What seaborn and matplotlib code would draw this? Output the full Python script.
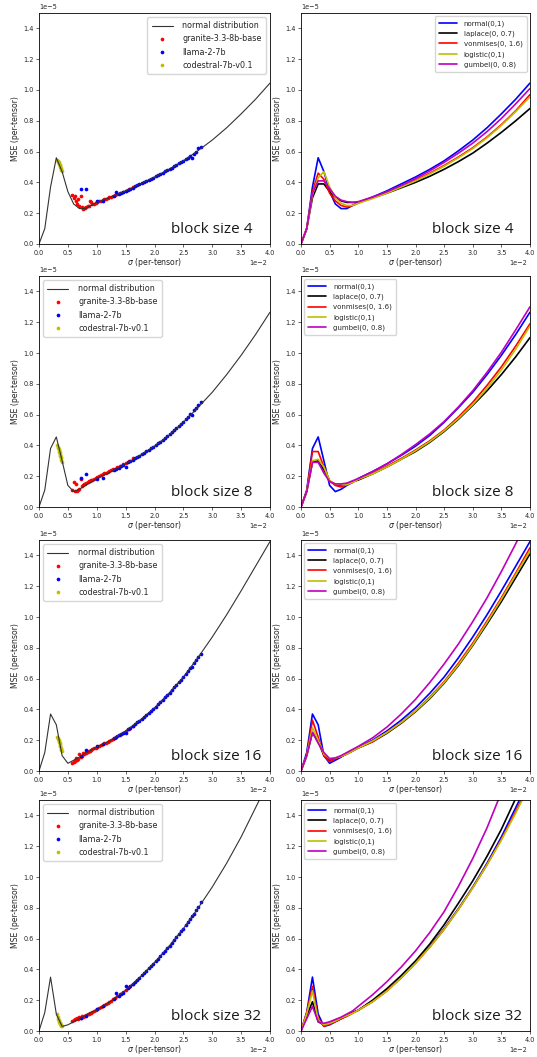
import matplotlib
matplotlib.use("Agg")
import numpy as np
import matplotlib.pyplot as plt
from matplotlib.ticker import MultipleLocator
import seaborn as sns

# ---------------------------------------------------------------- units
SIGMA_UNIT = 1e-2
MSE_UNIT = 1e-5

BLOCK_SIZES = [4, 8, 16, 32]

# ------------------------------------------- reference distributions
# sigma grid (in units of 1e-2)
sigma_grid = [0.0, 0.1, 0.2, 0.3, 0.4, 0.5, 0.6, 0.7, 0.8, 0.9, 1.0,
              1.25, 1.5, 1.75, 2.0, 2.25, 2.5, 2.75, 3.0, 3.25, 3.5, 3.75, 4.0]

dist_labels = ["normal(0,1)", "laplace(0, 0.7)", "vonmises(0, 1.6)",
               "logistic(0,1)", "gumbel(0, 0.8)"]
dist_colors = ["b", "k", "r", "y", "m"]

# MSE (in units of 1e-5), block size 4
normal_b4 = [0, 0.10, 0.37, 0.56, 0.47, 0.34, 0.26, 0.23, 0.23, 0.25, 0.27,
             0.305, 0.345, 0.39, 0.435, 0.485, 0.54, 0.605, 0.675, 0.755, 0.845, 0.94, 1.045]
laplace_b4 = [0, 0.10, 0.30, 0.39, 0.39, 0.34, 0.30, 0.28, 0.27, 0.27, 0.27,
              0.30, 0.33, 0.365, 0.40, 0.44, 0.485, 0.535, 0.59, 0.655, 0.725, 0.80, 0.88]
vonmises_b4 = [0, 0.10, 0.34, 0.46, 0.42, 0.33, 0.28, 0.25, 0.24, 0.25, 0.265,
               0.30, 0.335, 0.375, 0.415, 0.46, 0.51, 0.565, 0.625, 0.695, 0.775, 0.865, 0.97]
logistic_b4 = [0, 0.10, 0.32, 0.43, 0.47, 0.37, 0.30, 0.265, 0.25, 0.25, 0.265,
               0.295, 0.33, 0.37, 0.41, 0.455, 0.505, 0.56, 0.62, 0.69, 0.77, 0.86, 0.955]
gumbel_b4 = [0, 0.10, 0.33, 0.41, 0.41, 0.36, 0.31, 0.285, 0.275, 0.27, 0.275,
             0.305, 0.34, 0.38, 0.425, 0.475, 0.53, 0.59, 0.655, 0.73, 0.815, 0.91, 1.01]

# block size 8
normal_b8 = [0, 0.11, 0.38, 0.455, 0.30, 0.14, 0.10, 0.115, 0.14, 0.16, 0.185,
             0.23, 0.28, 0.335, 0.395, 0.465, 0.55, 0.645, 0.745, 0.86, 0.985, 1.12, 1.265]
laplace_b8 = [0, 0.10, 0.29, 0.30, 0.24, 0.17, 0.145, 0.14, 0.15, 0.165, 0.175,
              0.215, 0.26, 0.31, 0.36, 0.42, 0.49, 0.57, 0.66, 0.755, 0.86, 0.975, 1.10]
vonmises_b8 = [0, 0.10, 0.36, 0.36, 0.26, 0.17, 0.14, 0.13, 0.145, 0.16, 0.18,
               0.22, 0.265, 0.315, 0.37, 0.43, 0.50, 0.585, 0.68, 0.79, 0.91, 1.045, 1.19]
logistic_b8 = [0, 0.10, 0.30, 0.31, 0.26, 0.17, 0.15, 0.145, 0.145, 0.16, 0.18,
               0.215, 0.26, 0.31, 0.365, 0.425, 0.495, 0.575, 0.665, 0.77, 0.89, 1.025, 1.175]
gumbel_b8 = [0, 0.10, 0.29, 0.29, 0.22, 0.165, 0.15, 0.15, 0.155, 0.17, 0.185,
             0.23, 0.28, 0.34, 0.405, 0.475, 0.555, 0.65, 0.755, 0.875, 1.005, 1.15, 1.30]

# block size 16
normal_b16 = [0, 0.12, 0.37, 0.30, 0.10, 0.05, 0.07, 0.09, 0.115, 0.135, 0.155,
              0.20, 0.26, 0.33, 0.41, 0.505, 0.61, 0.735, 0.87, 1.015, 1.17, 1.33, 1.49]
laplace_b16 = [0, 0.10, 0.25, 0.19, 0.10, 0.07, 0.08, 0.095, 0.11, 0.13, 0.15,
               0.19, 0.245, 0.31, 0.385, 0.47, 0.57, 0.685, 0.815, 0.955, 1.10, 1.255, 1.41]
vonmises_b16 = [0, 0.10, 0.33, 0.22, 0.10, 0.06, 0.08, 0.095, 0.11, 0.13, 0.15,
                0.19, 0.25, 0.315, 0.39, 0.48, 0.58, 0.70, 0.83, 0.975, 1.125, 1.285, 1.45]
logistic_b16 = [0, 0.10, 0.28, 0.20, 0.11, 0.08, 0.085, 0.095, 0.11, 0.13, 0.15,
                0.195, 0.25, 0.315, 0.39, 0.475, 0.575, 0.69, 0.82, 0.965, 1.115, 1.275, 1.43]
gumbel_b16 = [0, 0.10, 0.25, 0.18, 0.12, 0.08, 0.085, 0.10, 0.12, 0.14, 0.16,
              0.215, 0.285, 0.37, 0.465, 0.575, 0.695, 0.825, 0.97, 1.125, 1.295, 1.475, 1.665]

# block size 32
normal_b32 = [0, 0.12, 0.35, 0.11, 0.03, 0.04, 0.06, 0.08, 0.10, 0.12, 0.135,
              0.195, 0.265, 0.35, 0.445, 0.55, 0.665, 0.795, 0.935, 1.09, 1.26, 1.45, 1.64]
laplace_b32 = [0, 0.10, 0.19, 0.06, 0.04, 0.05, 0.065, 0.08, 0.10, 0.12, 0.135,
               0.20, 0.275, 0.36, 0.455, 0.565, 0.69, 0.83, 0.975, 1.135, 1.31, 1.51, 1.72]
vonmises_b32 = [0, 0.12, 0.29, 0.08, 0.03, 0.045, 0.06, 0.08, 0.095, 0.115, 0.135,
                0.19, 0.26, 0.345, 0.44, 0.545, 0.66, 0.79, 0.93, 1.08, 1.245, 1.425, 1.615]
logistic_b32 = [0, 0.11, 0.26, 0.07, 0.04, 0.05, 0.065, 0.085, 0.10, 0.115, 0.135,
                0.19, 0.26, 0.345, 0.44, 0.545, 0.66, 0.79, 0.93, 1.08, 1.24, 1.415, 1.60]
gumbel_b32 = [0, 0.08, 0.16, 0.06, 0.05, 0.06, 0.075, 0.09, 0.11, 0.13, 0.16,
              0.235, 0.32, 0.415, 0.52, 0.64, 0.775, 0.94, 1.12, 1.32, 1.55, 1.80, 2.05]

dist_curves = {
    4: [normal_b4, laplace_b4, vonmises_b4, logistic_b4, gumbel_b4],
    8: [normal_b8, laplace_b8, vonmises_b8, logistic_b8, gumbel_b8],
    16: [normal_b16, laplace_b16, vonmises_b16, logistic_b16, gumbel_b16],
    32: [normal_b32, laplace_b32, vonmises_b32, logistic_b32, gumbel_b32],
}

# ------------------------------------------------ per-tensor model points
model_labels = ["granite-3.3-8b-base", "llama-2-7b", "codestral-7b-v0.1"]
model_colors = ["r", "b", "y"]

# per-tensor sigma (units of 1e-2), identical for every block size
granite_sigma = [0.58, 0.60, 0.62, 0.64, 0.66, 0.68, 0.70, 0.72, 0.74, 0.76, 0.78,
                 0.80, 0.82, 0.84, 0.86, 0.88, 0.90, 0.92, 0.95, 0.98, 1.01, 1.04,
                 1.07, 1.10, 1.13, 1.16, 1.19, 1.22, 1.25, 1.28, 1.31, 1.35, 1.40,
                 1.45, 1.50, 1.56, 1.62]
llama_sigma = [0.72, 0.82, 1.00, 1.10, 1.30, 1.34, 1.38, 1.42, 1.46, 1.50, 1.54,
               1.58, 1.62, 1.66, 1.70, 1.74, 1.78, 1.82, 1.86, 1.90, 1.94, 1.98,
               2.02, 2.06, 2.10, 2.14, 2.18, 2.22, 2.26, 2.30, 2.34, 2.38, 2.42,
               2.46, 2.50, 2.54, 2.58, 2.62, 2.65, 2.68, 2.72, 2.76, 2.80]
codestral_sigma = [0.32, 0.33, 0.335, 0.34, 0.345, 0.35, 0.355, 0.36, 0.365,
                   0.37, 0.375, 0.38, 0.385, 0.39]

# per-tensor MSE (units of 1e-5)
granite_b4 = [0.32, 0.30, 0.31, 0.28, 0.26, 0.29, 0.25, 0.31, 0.24, 0.228, 0.232,
              0.236, 0.24, 0.244, 0.248, 0.28, 0.27, 0.258, 0.262, 0.268, 0.273, 0.277,
              0.282, 0.286, 0.29, 0.294, 0.298, 0.302, 0.306, 0.311, 0.316, 0.322, 0.33,
              0.338, 0.346, 0.356, 0.372]
granite_b8 = [0.11, 0.16, 0.105, 0.15, 0.105, 0.11, 0.12, 0.18, 0.135, 0.14, 0.147,
              0.152, 0.157, 0.162, 0.166, 0.17, 0.174, 0.178, 0.184, 0.19, 0.196, 0.202,
              0.208, 0.213, 0.218, 0.223, 0.228, 0.233, 0.238, 0.244, 0.25, 0.257, 0.266,
              0.276, 0.285, 0.30, 0.315]
granite_b16 = [0.055, 0.06, 0.065, 0.085, 0.07, 0.075, 0.11, 0.09, 0.095, 0.12, 0.11,
               0.115, 0.12, 0.125, 0.13, 0.133, 0.137, 0.141, 0.147, 0.152, 0.157, 0.163,
               0.168, 0.174, 0.18, 0.185, 0.19, 0.196, 0.202, 0.209, 0.216, 0.225, 0.237,
               0.249, 0.26, 0.275, 0.295]
granite_b32 = [0.065, 0.07, 0.08, 0.075, 0.085, 0.08, 0.09, 0.085, 0.095, 0.092, 0.097,
               0.10, 0.104, 0.108, 0.112, 0.116, 0.12, 0.124, 0.13, 0.136, 0.142, 0.149,
               0.156, 0.163, 0.17, 0.177, 0.184, 0.191, 0.198, 0.206, 0.214, 0.225, 0.238,
               0.252, 0.266, 0.284, 0.305]

llama_b4 = [0.36, 0.355, 0.28, 0.28, 0.313, 0.34, 0.326, 0.332, 0.339, 0.345, 0.352,
            0.359, 0.366, 0.374, 0.381, 0.388, 0.395, 0.403, 0.41, 0.417, 0.424, 0.431,
            0.439, 0.447, 0.455, 0.463, 0.471, 0.479, 0.487, 0.496, 0.505, 0.514, 0.523,
            0.531, 0.54, 0.55, 0.561, 0.571, 0.56, 0.587, 0.60, 0.625, 0.632]
llama_b8 = [0.19, 0.215, 0.185, 0.19, 0.24, 0.248, 0.256, 0.264, 0.272, 0.26, 0.289,
            0.298, 0.306, 0.315, 0.324, 0.333, 0.342, 0.352, 0.361, 0.371, 0.381, 0.39,
            0.401, 0.413, 0.425, 0.437, 0.449, 0.461, 0.473, 0.487, 0.501, 0.514, 0.528,
            0.541, 0.555, 0.571, 0.587, 0.603, 0.60, 0.627, 0.643, 0.665, 0.68]
llama_b16 = [0.097, 0.135, 0.16, 0.175, 0.212, 0.222, 0.231, 0.241, 0.25, 0.25, 0.271,
             0.282, 0.294, 0.305, 0.316, 0.327, 0.34, 0.353, 0.366, 0.378, 0.391, 0.404,
             0.418, 0.433, 0.448, 0.463, 0.478, 0.494, 0.509, 0.526, 0.543, 0.56, 0.576,
             0.593, 0.61, 0.63, 0.65, 0.67, 0.675, 0.70, 0.72, 0.74, 0.76]
llama_b32 = [0.086, 0.10, 0.14, 0.16, 0.21, 0.25, 0.228, 0.239, 0.25, 0.295, 0.276,
             0.289, 0.303, 0.316, 0.33, 0.347, 0.361, 0.376, 0.391, 0.407, 0.422, 0.437,
             0.453, 0.47, 0.487, 0.504, 0.521, 0.538, 0.555, 0.573, 0.592, 0.61, 0.629,
             0.647, 0.665, 0.687, 0.708, 0.73, 0.746, 0.762, 0.784, 0.805, 0.84]

codestral_b4 = [0.545, 0.54, 0.535, 0.53, 0.525, 0.52, 0.515, 0.51, 0.505, 0.50,
                0.495, 0.49, 0.48, 0.475]
codestral_b8 = [0.40, 0.39, 0.38, 0.375, 0.37, 0.36, 0.355, 0.345, 0.34, 0.33,
                0.325, 0.315, 0.305, 0.295]
codestral_b16 = [0.22, 0.215, 0.21, 0.20, 0.195, 0.19, 0.18, 0.175, 0.165, 0.16,
                 0.15, 0.145, 0.135, 0.13]
codestral_b32 = [0.11, 0.09, 0.08, 0.07, 0.065, 0.06, 0.055, 0.05, 0.05, 0.045,
                 0.04, 0.04, 0.035, 0.035]

model_points = {
    4: [granite_b4, llama_b4, codestral_b4],
    8: [granite_b8, llama_b8, codestral_b8],
    16: [granite_b16, llama_b16, codestral_b16],
    32: [granite_b32, llama_b32, codestral_b32],
}
model_sigmas = [granite_sigma, llama_sigma, codestral_sigma]

# ---------------------------------------------------------------- style
sns.set_style("ticks")
plt.rcParams["font.family"] = ["DejaVu Sans"]
plt.rcParams["axes.linewidth"] = 0.6
plt.rcParams["xtick.major.width"] = 0.5
plt.rcParams["ytick.major.width"] = 0.5
plt.rcParams["xtick.major.size"] = 2.5
plt.rcParams["ytick.major.size"] = 2.5
plt.rcParams["axes.edgecolor"] = "black"

TICK_FS = 4.7
LABEL_FS = 5.6
TAG_FONT = ["Open Sans", "DejaVu Sans"]

W, H = 537, 1057
AX_W, AX_H = 229, 231
LEFT_X, RIGHT_X = 39, 301
ROW_BOTTOMS = [244, 507, 771, 1031]

fig = plt.figure(figsize=(W / 100, H / 100), dpi=100)


def style_axis(ax, tag):
    ax.set_xlim(0, 4.0 * SIGMA_UNIT)
    ax.set_ylim(0, 1.5 * MSE_UNIT)
    ax.xaxis.set_major_locator(MultipleLocator(0.5 * SIGMA_UNIT))
    ax.yaxis.set_major_locator(MultipleLocator(0.2 * MSE_UNIT))
    ax.ticklabel_format(style="sci", axis="both", scilimits=(0, 0))
    ax.tick_params(labelsize=TICK_FS, pad=1.5)
    ax.xaxis.get_offset_text().set_fontsize(TICK_FS)
    ax.xaxis.get_offset_text().set_x(0.985)
    ax.yaxis.get_offset_text().set_fontsize(TICK_FS)
    ax.set_xlabel(r"$\sigma$ (per-tensor)", fontsize=LABEL_FS, labelpad=0.5)
    ax.set_ylabel("MSE (per-tensor)", fontsize=LABEL_FS, labelpad=2)
    for s in ax.spines.values():
        s.set_visible(True)
        s.set_linewidth(0.6)
    ax.text(0.57, 0.048, tag, transform=ax.transAxes, fontsize=11,
            family=TAG_FONT, color="#1a1a1a", ha="left", va="baseline")


for row, bs in enumerate(BLOCK_SIZES):
    bottom = 1 - ROW_BOTTOMS[row] / H
    ax_l = fig.add_axes([LEFT_X / W, bottom, (AX_W + 2) / W, AX_H / H])
    ax_r = fig.add_axes([RIGHT_X / W, bottom, AX_W / W, AX_H / H])

    sig = np.array(sigma_grid) * SIGMA_UNIT

    # left: normal reference curve with the per-tensor model points
    sns.lineplot(x=sig, y=np.array(dist_curves[bs][0]) * MSE_UNIT, ax=ax_l,
                 color="#333333", lw=0.8, label="normal distribution")
    for xs, ys, c, lab in zip(model_sigmas, model_points[bs], model_colors, model_labels):
        sns.scatterplot(x=np.array(xs) * SIGMA_UNIT, y=np.array(ys) * MSE_UNIT,
                        ax=ax_l, color=c, s=7, linewidth=0, label=lab)
    loc = "upper right" if row == 0 else "upper left"
    ax_l.legend(loc=loc, fontsize=5.8, handlelength=2.6, borderpad=0.55,
                labelspacing=0.5, handletextpad=1.2, markerscale=1.0)
    style_axis(ax_l, f"block size {bs}")

    # right: MSE curves for several distributions
    for ys, c, lab in zip(dist_curves[bs], dist_colors, dist_labels):
        sns.lineplot(x=sig, y=np.array(ys) * MSE_UNIT, ax=ax_r, color=c, lw=1.2,
                     label=lab)
    ax_r.legend(loc=loc, fontsize=5.0, handlelength=2.6, borderpad=0.55,
                labelspacing=0.55, handletextpad=1.0)
    style_axis(ax_r, f"block size {bs}")

fig.savefig("out.png", dpi=100, facecolor="white")
